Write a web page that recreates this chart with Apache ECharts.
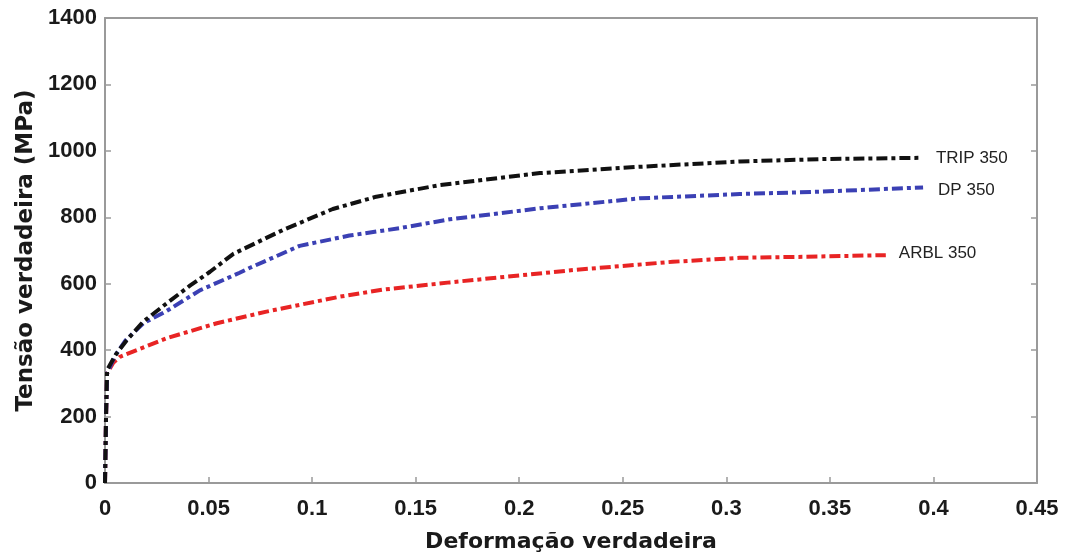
<!DOCTYPE html>
<html>
<head>
<meta charset="utf-8">
<script src="https://cdn.jsdelivr.net/npm/echarts@6/dist/echarts.min.js"></script>
<style>
  html, body { margin: 0; padding: 0; background: #fff; }
  #chart { width: 1067px; height: 553px; }
</style>
</head>
<body>
<div id="chart"></div>
<script>
// True stress-strain curves of three 350 steels
const tripStrain = [0, 0.0005, 0.001, 0.005, 0.0105, 0.0185, 0.0298, 0.041, 0.0507, 0.062, 0.086, 0.11, 0.131, 0.1617, 0.21, 0.258, 0.3065, 0.345, 0.393];
const tripStress = [0, 200, 340, 385, 430, 486, 541, 594, 636, 690, 762, 825, 862, 897, 933, 952, 968, 975, 979];

const dpStrain = [0, 0.0005, 0.001, 0.005, 0.01, 0.0185, 0.0298, 0.0458, 0.065, 0.07, 0.094, 0.118, 0.142, 0.1665, 0.21, 0.258, 0.3065, 0.345, 0.395];
const dpStress = [0, 200, 330, 385, 430, 481, 518, 580, 633, 648, 714, 745, 767, 794, 827, 857, 870, 877, 890];

const arblStrain = [0, 0.0005, 0.001, 0.004, 0.0072, 0.0298, 0.054, 0.078, 0.1134, 0.134, 0.1665, 0.226, 0.274, 0.3065, 0.337, 0.377];
const arblStress = [0, 200, 330, 362, 380, 436, 481, 516, 561, 582, 604, 641, 666, 678, 681, 686];

const seriesNames = ['ARBL 350', 'DP 350', 'TRIP 350'];
const seriesColors = ['#e82424', '#3b40b4', '#111111'];

const xTicks = { min: 0, max: 0.45, interval: 0.05 };
const yTicks = { min: 0, max: 1400, interval: 200 };

function pairs(xs, ys) { return xs.map((x, i) => [x, ys[i]]); }

const curves = [pairs(arblStrain, arblStress), pairs(dpStrain, dpStress), pairs(tripStrain, tripStress)];
const labelOffsets = [[5, -2], [7, 3], [9, 0]];

const axisLine = { show: true, onZero: false, lineStyle: { color: '#9a9a9a', width: 2 } };
const tick = { show: true, inside: true, length: 6, lineStyle: { color: '#9a9a9a', width: 1.5 } };
const tickFont = { fontFamily: 'Liberation Sans', fontWeight: 'bold', fontSize: 22, color: '#1a1a1a' };
const titleFont = { fontFamily: 'DejaVu Sans', fontWeight: 'bold', fontSize: 22, color: '#1a1a1a' };

const chart = echarts.init(document.getElementById('chart'), null, { renderer: 'canvas' });
chart.setOption({
  animation: false,
  backgroundColor: '#ffffff',
  grid: { left: 105, right: 30, top: 18, bottom: 70, containLabel: false, outerBoundsMode: 'none' },
  xAxis: [
    {
      type: 'value', min: xTicks.min, max: xTicks.max, interval: xTicks.interval,
      axisLine: axisLine, axisTick: tick,
      splitLine: { show: false },
      axisLabel: Object.assign({ margin: 15, formatter: v => String(v) }, tickFont),
      name: 'Deformação verdadeira', nameLocation: 'middle', nameGap: 48,
      nameTextStyle: titleFont
    },
    {
      type: 'value', position: 'top', min: xTicks.min, max: xTicks.max, interval: xTicks.interval,
      axisLine: axisLine, axisTick: { show: false }, axisLabel: { show: false }, splitLine: { show: false }
    }
  ],
  yAxis: [
    {
      type: 'value', min: yTicks.min, max: yTicks.max, interval: yTicks.interval,
      axisLine: axisLine, axisTick: tick,
      splitLine: { show: false },
      axisLabel: Object.assign({ margin: 8, formatter: v => String(v) }, tickFont),
      name: 'Tensão verdadeira (MPa)', nameLocation: 'middle', nameGap: 50,
      nameTextStyle: Object.assign({}, titleFont, { fontSize: 23 })
    },
    {
      type: 'value', position: 'right', min: yTicks.min, max: yTicks.max, interval: yTicks.interval,
      axisLine: axisLine, axisTick: tick,
      axisLabel: { show: false }, splitLine: { show: false }
    }
  ],
  series: curves.map((data, i) => ({
    name: seriesNames[i],
    type: 'line',
    data: data,
    showSymbol: false,
    smooth: false,
    lineStyle: { color: seriesColors[i], width: 4, type: [11, 4, 4, 4], cap: 'butt' },
    endLabel: {
      show: true,
      formatter: '{a}',
      offset: labelOffsets[i],
      fontFamily: 'Liberation Sans',
      fontSize: 17,
      color: '#222222'
    }
  }))
});
</script>
</body>
</html>
